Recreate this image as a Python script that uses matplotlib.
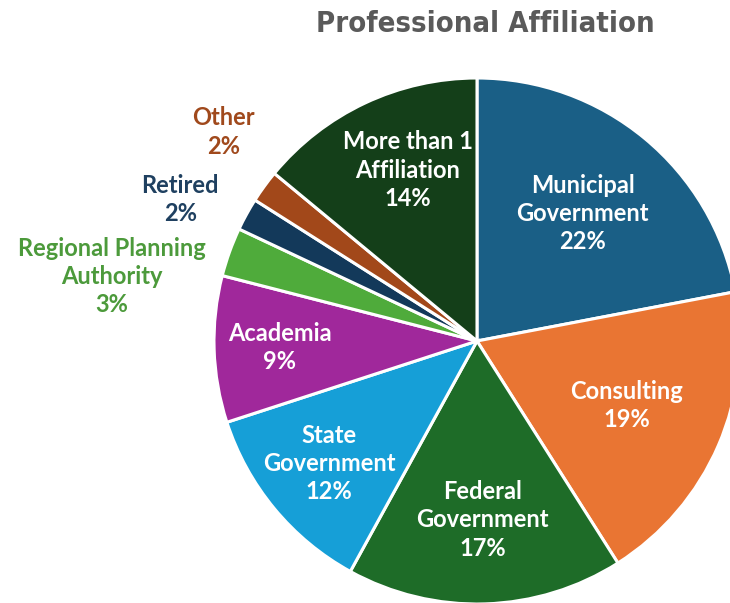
import numpy as np
import matplotlib
matplotlib.use('Agg')
import matplotlib.pyplot as plt

# slices, clockwise from 12 o'clock
categories = ['Municipal\nGovernment', 'Consulting', 'Federal\nGovernment', 'State\nGovernment',
              'Academia', 'Regional Planning\nAuthority', 'Retired', 'Other',
              'More than 1\nAffiliation']
shares = [22, 19, 17, 12, 9, 3, 2, 2, 14]
colors = ['#1a5f86', '#e97533', '#1e6c28', '#169fd7', '#a0289b',
          '#4fab3b', '#13395a', '#a2481a', '#143f19']

# label placement: (radius, angle in degrees); None -> slice mid angle
label_pos = [(0.63, None), (0.62, None), (0.68, None), (0.73, None), (0.75, None),
             (1.41, 170.0), (1.25, 154.5), (1.25, 140.5), (0.70, 112.0)]
label_colors = ['white', 'white', 'white', 'white', 'white',
                '#4c9a3b', '#1f4060', '#a0491c', 'white']

W, H = 730, 603
cx, cy, R = 477, 341, 263

fig = plt.figure(figsize=(W / 100, H / 100), dpi=100)
ax = fig.add_axes([0, 0, 1, 1])

wedges, _ = ax.pie(shares, colors=colors, startangle=90, counterclock=False,
                   radius=1.0, center=(0, 0), frame=True,
                   wedgeprops=dict(edgecolor='white', linewidth=2.2))
ax.set_xlim(-cx / R, (W - cx) / R)
ax.set_ylim(-(H - cy) / R, cy / R)
ax.set_aspect('auto')
ax.axis('off')

for w, name, val, (r, ang), tc in zip(wedges, categories, shares, label_pos, label_colors):
    if ang is None:
        ang = (w.theta1 + w.theta2) / 2
    a = np.deg2rad(ang)
    ax.text(r * np.cos(a), r * np.sin(a), f'{name}\n{val}%', ha='center', va='center',
            color=tc, fontsize=17, fontweight='bold', family=['Lato', 'DejaVu Sans'],
            linespacing=1.28)

fig.text(485 / W, 1 - 24 / H, 'Professional Affiliation', ha='center', va='center',
         color='#5a5a5a', fontsize=21, fontweight='bold', fontstretch='condensed',
         family='DejaVu Sans')

fig.savefig('out.png', dpi=100)
